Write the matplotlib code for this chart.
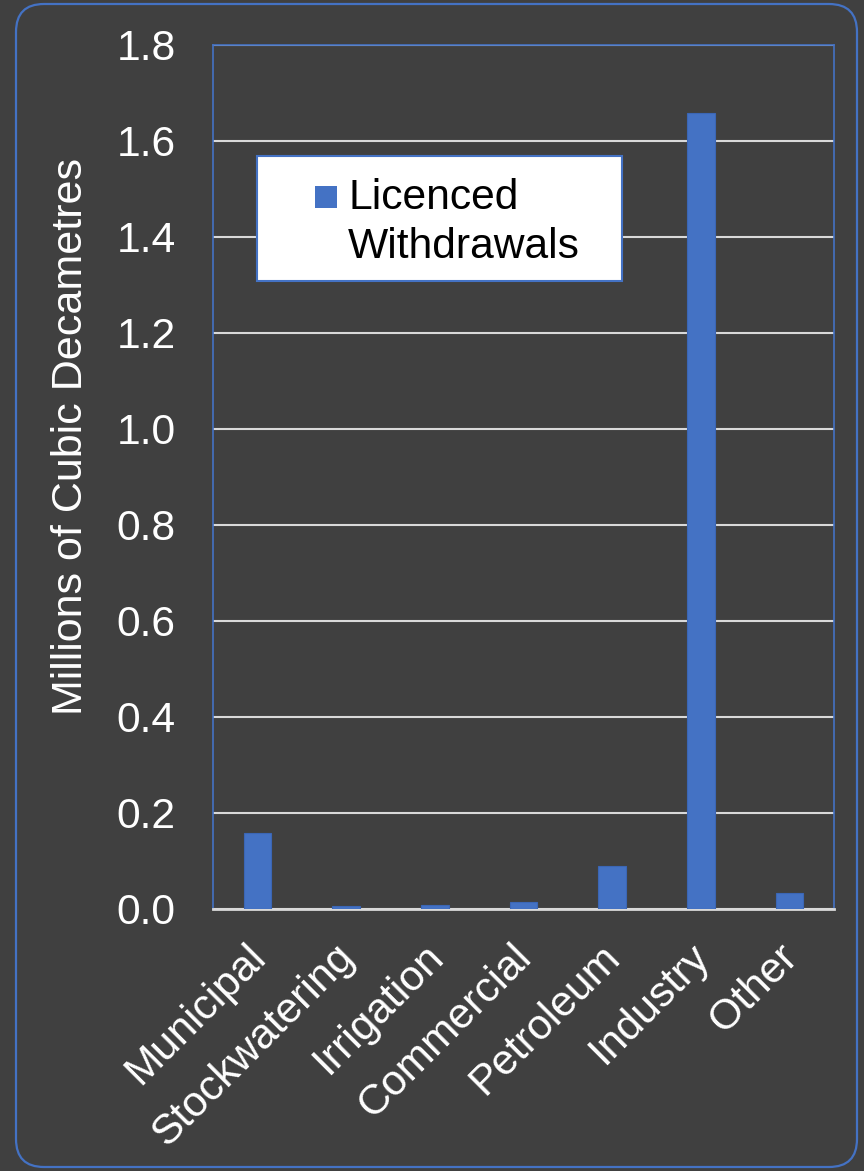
import matplotlib
matplotlib.use("Agg")
import matplotlib.pyplot as plt
from matplotlib.patches import FancyBboxPatch, Rectangle
from matplotlib.ticker import FuncFormatter, MultipleLocator
import matplotlib.transforms as mtransforms

plt.rcParams['font.family'] = ['Liberation Sans', 'DejaVu Sans']

# Licenced withdrawals by sector (millions of dam3)
sectors = ["Municipal", "Stockwatering", "Irrigation", "Commercial",
           "Petroleum", "Industry", "Other"]
withdrawals = [0.158, 0.006, 0.009, 0.015, 0.089, 1.658, 0.034]
series_name = "Licenced\nWithdrawals"

BG = "#404040"
BLUE = "#4472C4"
GRID = "#D9D9D9"
FS = 30.7

W, H = 864, 1171
fig = plt.figure(figsize=(W / 100, H / 100), dpi=100, facecolor=BG)

# background layer in pixel units, for the rounded frame
bg = fig.add_axes([0, 0, 1, 1], zorder=0)
bg.set_xlim(0, W)
bg.set_ylim(H, 0)
bg.axis("off")
bg.add_patch(FancyBboxPatch((16, 4), 841, 1163,
                            boxstyle="round,pad=0,rounding_size=28",
                            fc="none", ec=BLUE, lw=1.6))

# plot area
left, right, top, bottom = 213, 834, 45, 909
ax = fig.add_axes([left / W, (H - bottom) / H, (right - left) / W, (bottom - top) / H],
                  zorder=2)
ax.set_facecolor(BG)
x = range(len(sectors))
ax.bar(x, withdrawals, width=0.31, color=BLUE, edgecolor="#3B66B5", linewidth=0.8,
       zorder=3)
ax.set_xlim(-0.5, len(sectors) - 0.5)
ax.set_ylim(0, 1.8)
ax.yaxis.set_major_locator(MultipleLocator(0.2))
ax.yaxis.set_major_formatter(FuncFormatter(lambda v, p: f"{v:.1f}"))
ax.grid(axis="y", color=GRID, linewidth=1.5)
ax.set_axisbelow(True)

for side in ["top", "left", "right"]:
    ax.spines[side].set_color(BLUE)
    ax.spines[side].set_linewidth(1.2)
ax.spines["bottom"].set_color(GRID)
ax.spines["bottom"].set_linewidth(2)

ax.tick_params(axis="y", length=0, pad=27, labelsize=FS, labelcolor="white")
ax.tick_params(axis="x", length=0, pad=20, labelsize=FS, labelcolor="white")
ax.set_xticks(list(x))
ax.set_xticklabels(sectors, rotation=45, ha="right", va="top", rotation_mode="anchor")
shift = mtransforms.ScaledTranslation(-12 / 100, 0, fig.dpi_scale_trans)
for lab in ax.get_xticklabels():
    lab.set_transform(lab.get_transform() + shift)

fig.text(71 / W, 1 - 437 / H, "Millions of Cubic Decametres", rotation=90,
         ha="center", va="center", fontsize=31, color="white")

# legend box drawn on top layer
ov = fig.add_axes([0, 0, 1, 1], zorder=5)
ov.set_xlim(0, W)
ov.set_ylim(H, 0)
ov.axis("off")
ov.patch.set_visible(False)
ov.add_patch(Rectangle((257, 156), 365, 125, fc="white", ec=BLUE, lw=1.5))
ov.add_patch(Rectangle((315, 186), 22, 22, fc=BLUE, ec="none"))
for i, line in enumerate(series_name.split("\n")):
    ov.text(348, 209 + 49 * i, line, fontsize=FS, color="black", va="baseline")

fig.savefig("out.png", dpi=100, facecolor=BG)
